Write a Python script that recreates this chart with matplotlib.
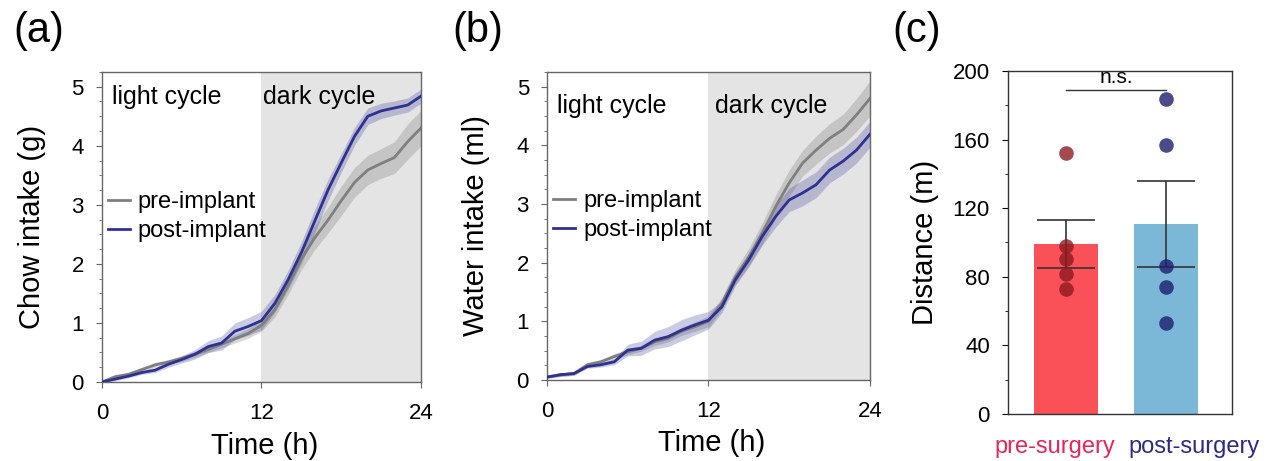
import numpy as np
import matplotlib
matplotlib.use("Agg")
import matplotlib.pyplot as plt
from matplotlib.ticker import MultipleLocator

plt.rcParams['font.family'] = ['Liberation Sans', 'DejaVu Sans']

# ---- data ----
hours = list(range(25))

chow_pre = [0.0, 0.09, 0.13, 0.21, 0.29, 0.34, 0.40, 0.47, 0.55, 0.64, 0.73, 0.82, 0.96,
            1.22, 1.63, 2.08, 2.44, 2.74, 3.07, 3.38, 3.59, 3.70, 3.80, 4.07, 4.30]
chow_pre_sem = [0.02, 0.03, 0.03, 0.04, 0.04, 0.04, 0.05, 0.05, 0.05, 0.06, 0.07, 0.08, 0.10,
                0.12, 0.15, 0.18, 0.20, 0.22, 0.25, 0.25, 0.25, 0.25, 0.27, 0.30, 0.30]
chow_post = [0.0, 0.05, 0.10, 0.16, 0.20, 0.30, 0.38, 0.47, 0.60, 0.66, 0.86, 0.94, 1.04,
             1.33, 1.73, 2.19, 2.72, 3.25, 3.71, 4.16, 4.50, 4.59, 4.64, 4.69, 4.84]
chow_post_sem = [0.02, 0.03, 0.03, 0.03, 0.04, 0.05, 0.06, 0.08, 0.10, 0.12, 0.14, 0.15, 0.16,
                 0.15, 0.16, 0.18, 0.20, 0.18, 0.16, 0.15, 0.14, 0.13, 0.12, 0.12, 0.12]

water_pre = [0.05, 0.09, 0.11, 0.26, 0.31, 0.40, 0.48, 0.54, 0.65, 0.71, 0.83, 0.91, 1.00,
             1.31, 1.76, 2.10, 2.50, 2.96, 3.36, 3.70, 3.92, 4.12, 4.27, 4.52, 4.80]
water_pre_sem = [0.02, 0.03, 0.03, 0.04, 0.04, 0.05, 0.05, 0.05, 0.06, 0.06, 0.07, 0.08, 0.09,
                 0.10, 0.12, 0.15, 0.18, 0.20, 0.22, 0.22, 0.24, 0.25, 0.26, 0.28, 0.30]
water_post = [0.05, 0.09, 0.11, 0.23, 0.26, 0.31, 0.51, 0.54, 0.68, 0.74, 0.85, 0.94, 1.02,
              1.25, 1.71, 2.05, 2.45, 2.79, 3.07, 3.19, 3.33, 3.58, 3.73, 3.92, 4.19]
water_post_sem = [0.02, 0.03, 0.03, 0.03, 0.04, 0.05, 0.10, 0.12, 0.15, 0.17, 0.18, 0.17, 0.15,
                  0.10, 0.10, 0.12, 0.15, 0.18, 0.20, 0.22, 0.22, 0.22, 0.22, 0.22, 0.22]

groups = ['pre-surgery', 'post-surgery']
dist_pre = [151.9, 98.0, 90.6, 81.5, 73.1]
dist_post = [183.9, 156.7, 86.5, 74.3, 53.3]

GRAY = '#7f7f7f'
BLUE = '#2e3192'
FRAME = '#666666'

fig = plt.figure(figsize=(12.73, 4.61), dpi=100)
ax_a = fig.add_axes([0.0801, 0.1714, 0.2506, 0.6725])
ax_b = fig.add_axes([0.4297, 0.1757, 0.2537, 0.668])
ax_c = fig.add_axes([0.7918, 0.102, 0.176, 0.744])


def intake_panel(ax, pre, pre_sem, post, post_sem, ylabel, txt_y, dark_x):
    t = np.array(hours)
    ax.axvspan(12, 24, color='#e4e4e4', lw=0, zorder=0)
    pre, pre_sem = np.array(pre), np.array(pre_sem)
    post, post_sem = np.array(post), np.array(post_sem)
    ax.fill_between(t, pre - pre_sem, pre + pre_sem, color=GRAY, alpha=0.3, lw=0, zorder=1)
    ax.fill_between(t, post - post_sem, post + post_sem, color=BLUE, alpha=0.25, lw=0, zorder=1)
    ax.plot(t, pre, color=GRAY, lw=2, label='pre-implant', zorder=2)
    ax.plot(t, post, color=BLUE, lw=2, label='post-implant', zorder=3)
    ax.set_xlim(0, 24)
    ax.set_ylim(0, 5.25)
    ax.set_xticks([0, 12, 24])
    ax.set_yticks(range(6))
    ax.yaxis.set_minor_locator(MultipleLocator(0.25))
    for s in ax.spines.values():
        s.set_color(FRAME)
        s.set_linewidth(1)
    ax.tick_params(axis='both', which='major', labelsize=16, length=4, color=FRAME)
    ax.tick_params(axis='x', pad=11)
    ax.tick_params(axis='y', pad=9)
    ax.tick_params(axis='y', which='minor', length=2.5, color=FRAME)
    ax.set_ylabel(ylabel, fontsize=21)
    ax.yaxis.set_label_coords(-0.175, 0.5)
    ax.set_xlabel('Time (h)', fontsize=21, va='top')
    ax.xaxis.set_label_coords(0.51, -0.16)
    ax.text(0.031, txt_y, 'light cycle', transform=ax.transAxes, fontsize=18, va='center')
    ax.text(dark_x, txt_y, 'dark cycle', transform=ax.transAxes, fontsize=18, va='center')
    ax.legend(loc='center left', bbox_to_anchor=(0.02, 0.534), frameon=False, fontsize=17,
              handlelength=0.9, handletextpad=0.35, labelspacing=0.3,
              borderpad=0, borderaxespad=0)


intake_panel(ax_a, chow_pre, chow_pre_sem, chow_post, chow_post_sem,
             'Chow intake (g)', 0.919, 0.505)
intake_panel(ax_b, water_pre, water_pre_sem, water_post, water_post_sem,
             'Water intake (ml)', 0.89, 0.52)

# ---- panel c ----
x = np.arange(len(groups))
vals = [dist_pre, dist_post]
means = [np.mean(v) for v in vals]
sems = [np.std(v, ddof=1) / np.sqrt(len(v)) for v in vals]
ax_c.bar(x, means, width=0.64, color=['#fa5058', '#7bb8d8'], zorder=1)
ax_c.errorbar(x, means, yerr=sems, fmt='none', ecolor='#333333', elinewidth=1.2,
              capsize=21, capthick=1.2, zorder=3)
dot_cols = ['#8e1b20', '#1e1e70']
for i, v in enumerate(vals):
    ax_c.scatter([x[i]] * len(v), v, s=110, color=dot_cols[i], alpha=0.8, lw=0, zorder=4)
ax_c.plot([x[0], x[1]], [189, 189], color='#333333', lw=1)
ax_c.text(np.mean(x), 190.5, 'n.s.', ha='center', va='bottom', fontsize=15)
ax_c.set_xlim(-0.58, 1.66)
ax_c.set_ylim(0, 200)
ax_c.set_yticks(range(0, 201, 40))
ax_c.yaxis.set_minor_locator(MultipleLocator(20))
ax_c.set_xticks([])
for s in ax_c.spines.values():
    s.set_color('#333333')
    s.set_linewidth(1)
ax_c.tick_params(axis='y', which='major', labelsize=16, length=4, pad=9)
ax_c.tick_params(axis='y', which='minor', length=2.5)
ax_c.set_ylabel('Distance (m)', fontsize=21)
ax_c.yaxis.set_label_coords(-0.31, 0.5)
ax_c.text(0.49, -0.096, groups[0], transform=ax_c.get_xaxis_transform(), ha='right',
          va='center', fontsize=17, color='#e8245a')
ax_c.text(0.62, -0.096, groups[1], transform=ax_c.get_xaxis_transform(), ha='left',
          va='center', fontsize=17, color='#2b2a8a')

# panel letters
fig.text(13 / 1273, 1 - 31 / 461, '(a)', fontsize=30, va='center')
fig.text(452 / 1273, 1 - 31 / 461, '(b)', fontsize=30, va='center')
fig.text(892 / 1273, 1 - 31 / 461, '(c)', fontsize=30, va='center')

fig.savefig('out.png', dpi=100)
